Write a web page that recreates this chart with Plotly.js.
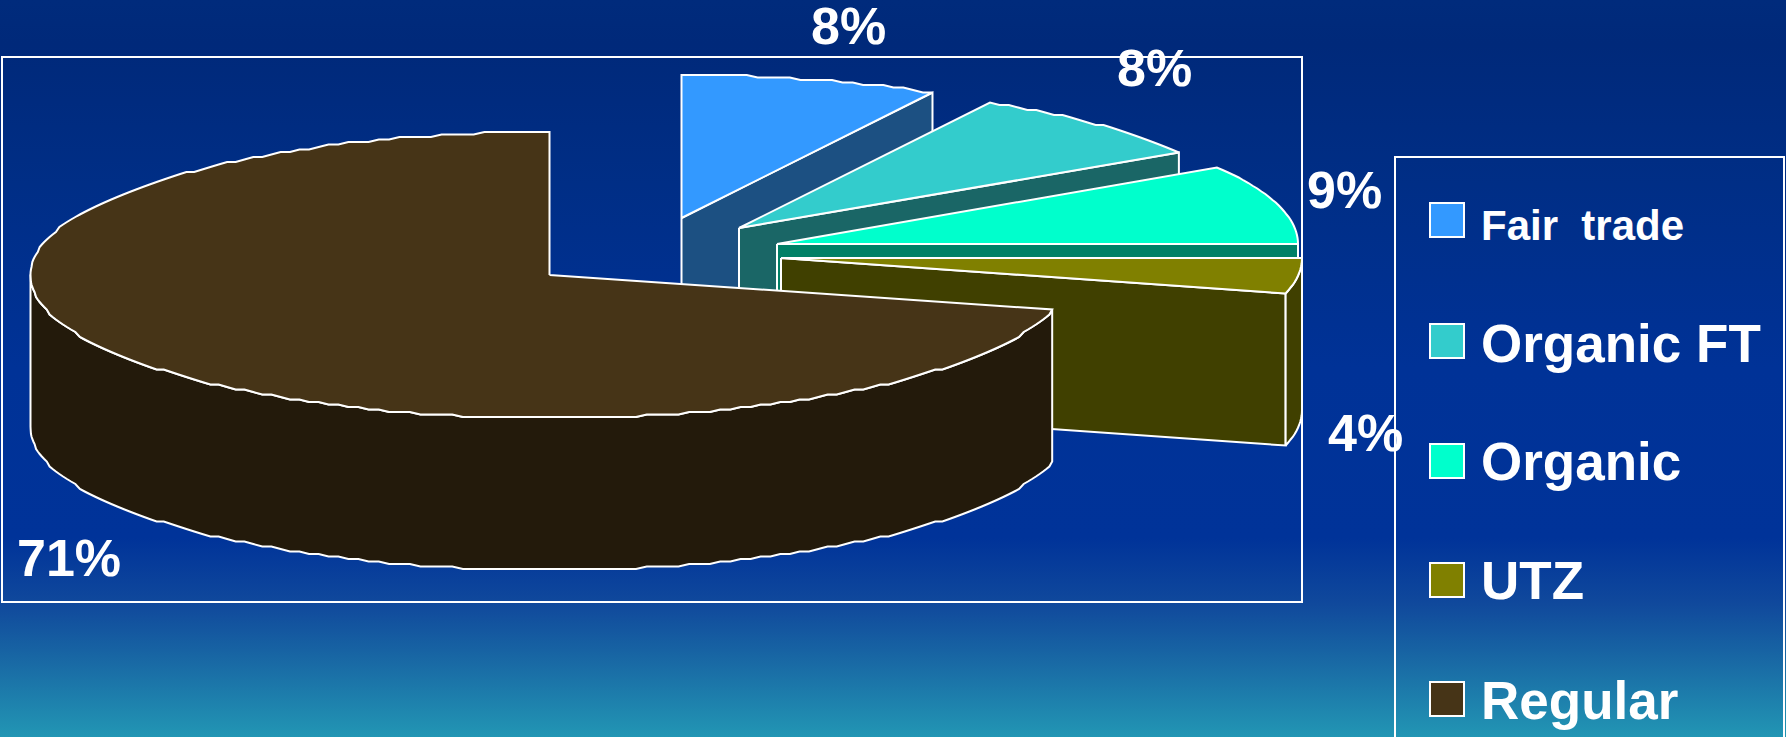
<!DOCTYPE html>
<html>
<head>
<meta charset="utf-8">
<script src="https://cdn.plot.ly/plotly-3.0.1.min.js"></script>
<style>html,body{margin:0;padding:0;background:#003399;overflow:hidden}#chart{width:1786px;height:737px}</style>
</head>
<body>
<div id="chart"></div>
<script>
// Coffee market shares by certification
const categories = ['Fair trade', 'Organic FT', 'Organic', 'UTZ', 'Regular'];
const shares = [8, 8, 9, 4, 71];
const legendLabels = ['Fair\u00a0 trade', 'Organic FT', 'Organic', 'UTZ', 'Regular'];

const topColors = ['#3399FF', '#33CCCC', '#00FFCC', '#808000', '#463417'];
const sideColors = ['#1C5082', '#1A6666', '#008066', '#404000', '#231A0B'];

// Exploded pie layout, in axis units (1 unit = 1 px on this canvas)
const hubX = [681.5, 739, 777, 781, 549.5];
const hubY = [218, 228, 244, 258, 275];
const radiusX = [521, 521, 521, 521, 519];
const radiusY = 143;
const depth = 152;
// Coarseness of the rim's rasterised outline, per slice
const rimGrid = [2.5, 2.5, 0.5, 0.5, 2.5];

const labelX = [848, 1154, 1344, 1365, 69];
const labelY = [26, 68, 190, 433, 558];
const swatchY = [220, 341, 461, 580, 699];
const legendTextY = [225, 343, 461, 580, 700];
const legendFont = [42, 53, 53, 53, 53];

const snap = (v, step) => Math.round(v / step) * step;

// Point on a slice's rim: angle in degrees, clockwise from the back of the pie
function rim(i, deg, drop) {
  const a = deg * Math.PI / 180;
  return [
    hubX[i] + radiusX[i] * Math.sin(a),
    hubY[i] - radiusY + snap(radiusY * (1 - Math.cos(a)), rimGrid[i]) + (drop || 0)
  ];
}
// Rim samples on a fixed angular step, so a wall and its top share the same outline
function arc(i, from, to, drop) {
  const pts = [];
  for (let d = from; d < to; d += 1.2) pts.push(rim(i, d, drop));
  pts.push(rim(i, to, drop));
  return pts;
}
function polygon(pts, color, name) {
  return {
    type: 'scatter', mode: 'lines', name: name, showlegend: false, hoverinfo: 'skip',
    x: pts.map(p => p[0]).concat(pts[0][0]),
    y: pts.map(p => p[1]).concat(pts[0][1]),
    fill: 'toself', fillcolor: color,
    line: {color: '#FFFFFF', width: 2, simplify: false}
  };
}

const traces = [{
  type: 'scatter', mode: 'lines', showlegend: false, hoverinfo: 'skip',
  x: [0, 1786, 1786, 0, 0], y: [0, 0, 737, 737, 0],
  line: {width: 0}, fill: 'toself',
  fillgradient: {
    type: 'vertical', start: 0, stop: 737,
    colorscale: [
      [0, '#002B7C'], [0.06, '#00297A'], [0.25, '#002E86'], [0.5, '#003297'], [0.73, '#003399'],
      [0.82, '#10499C'], [0.9, '#196AA5'], [1, '#2296B4']
    ]
  }
}];

// Slices are painted back to front so nearer ones overlap the others
let start = 0;
categories.forEach((name, i) => {
  const end = start + shares[i] * 3.6;
  const hub = [hubX[i], hubY[i]];
  const hubLow = [hubX[i], hubY[i] + depth];
  if (i < categories.length - 1) {
    // cut face behind the slice's trailing edge
    const e = rim(i, end), eLow = rim(i, end, depth);
    traces.push(polygon([hub, e, eLow, hubLow], sideColors[i], name + ' cut'));
  }
  if (end > 90 && start < 270) {
    // front-facing part of the outer wall
    const a = Math.max(start, 90), b = Math.min(end, 270);
    const wall = arc(i, a, b).concat(arc(i, a, b, depth).reverse());
    traces.push(polygon(wall, sideColors[i], name + ' wall'));
  }
  traces.push(polygon([hub].concat(arc(i, start, end)), topColors[i], name));
  start = end;
});

// Legend swatches
traces.push({
  type: 'scatter', mode: 'markers', showlegend: false, hoverinfo: 'skip',
  x: categories.map(() => 1447), y: swatchY,
  marker: {symbol: 'square', size: 34, color: topColors, line: {color: '#FFFFFF', width: 2}}
});

const annotations = shares.map((v, i) => ({
  text: v + '%', x: labelX[i], y: labelY[i], xref: 'x', yref: 'y', showarrow: false,
  xanchor: 'center', yanchor: 'middle', font: {family: 'Liberation Sans', size: 52, color: '#FFFFFF', weight: 700}
})).concat(legendLabels.map((t, i) => ({
  text: t, x: 1479, y: legendTextY[i], xref: 'x', yref: 'y', showarrow: false,
  xanchor: 'left', yanchor: 'middle', font: {family: 'Liberation Sans', size: legendFont[i], color: '#FFFFFF', weight: 700}
})));

const layout = {
  width: 1786, height: 737, margin: {l: 0, r: 0, t: 0, b: 0},
  paper_bgcolor: 'rgba(0,0,0,0)', plot_bgcolor: 'rgba(0,0,0,0)', showlegend: false,
  xaxis: {range: [0, 1786], visible: false, fixedrange: true},
  yaxis: {range: [737, 0], visible: false, fixedrange: true},
  shapes: [
    {type: 'rect', xref: 'x', yref: 'y', x0: 2, x1: 1302, y0: 57, y1: 602, line: {color: '#FFFFFF', width: 2}, layer: 'above'},
    {type: 'path', xref: 'x', yref: 'y', path: 'M1395,737 L1395,157 L1784,157 L1784,737', line: {color: '#FFFFFF', width: 2}, layer: 'above'}
  ],
  annotations: annotations
};

Plotly.newPlot('chart', traces, layout, {displayModeBar: false, staticPlot: true});
</script>
</body>
</html>
